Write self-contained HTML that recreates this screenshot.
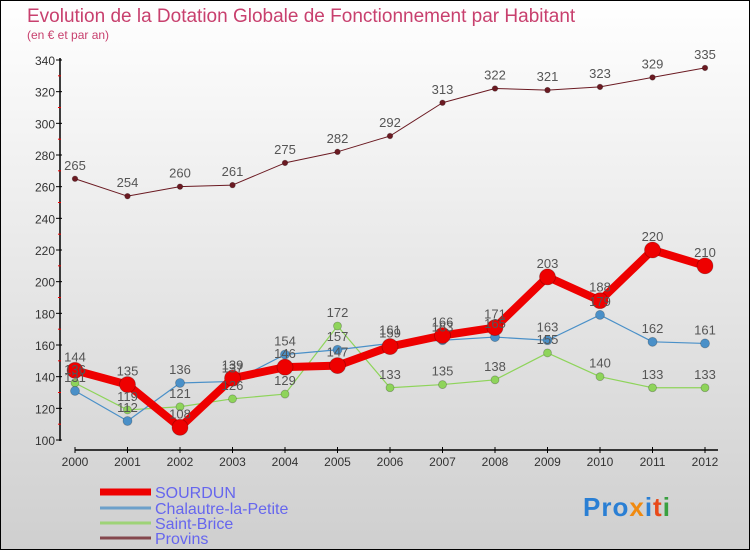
<!DOCTYPE html>
<html><head><meta charset="utf-8"><style>
html,body{margin:0;padding:0;}
body{width:750px;height:550px;overflow:hidden;font-family:"Liberation Sans",sans-serif;}
</style></head><body>
<svg id="chart" width="750" height="550" xmlns="http://www.w3.org/2000/svg" style="display:block">
<defs>
<linearGradient id="bg" x1="0" y1="0" x2="0" y2="1">
<stop offset="0" stop-color="#ffffff"/><stop offset="1" stop-color="#cfcfcf"/>
</linearGradient>
</defs>
<rect x="0.5" y="0.5" width="749" height="549" fill="url(#bg)" stroke="#000"/>
<text x="27" y="22" font-size="19" fill="#c8406e">Evolution de la Dotation Globale de Fonctionnement par Habitant</text>
<text x="27" y="39" font-size="12" fill="#c8406e">(en € et par an)</text>
<g id="axes"></g>
<g id="series"></g>
<g id="legend"></g>
<text x="583" y="516" font-size="26" font-weight="bold" style="letter-spacing:1px"><tspan fill="#2a7fd4">Pro</tspan><tspan fill="#f08a10">x</tspan><tspan fill="#2a7fd4">i</tspan><tspan fill="#e84a1a">t</tspan><tspan fill="#3aa040">i</tspan></text>
</svg>
<script>
const years=[2000,2001,2002,2003,2004,2005,2006,2007,2008,2009,2010,2011,2012];
const sourdun=[144,135,108,139,146,147,159,166,171,203,188,220,210];
const chalautre=[131,112,136,137,154,157,161,163,165,163,179,162,161];
const saintBrice=[136,119,121,126,129,172,133,135,138,155,140,133,133];
const provins=[265,254,260,261,275,282,292,313,322,321,323,329,335];
const yTicks=[100,120,140,160,180,200,220,240,260,280,300,320,340];
const NS="http://www.w3.org/2000/svg";
function x(i){return 75+i*52.5;}
function y(v){return 440-(v-100)*380/240;}
function mk(tag,attrs,parent){const e=document.createElementNS(NS,tag);for(const k in attrs)e.setAttribute(k,attrs[k]);parent.appendChild(e);return e;}
const axes=document.getElementById('axes');
let yl=mk('line',{x1:60,y1:y(340)-2,x2:60,y2:441,stroke:'#000','stroke-width':1.5},axes);


yTicks.forEach(v=>{
  mk('line',{x1:56,y1:y(v),x2:62,y2:y(v),stroke:'#000'},axes);
  let t=mk('text',{x:55,y:y(v)+5,'font-size':12,'text-anchor':'end',fill:'#333'},axes);
  t.textContent=v;
  
  
  if(v<340) mk('line',{x1:58,y1:y(v+10),x2:61,y2:y(v+10),stroke:'#e00'},axes);
});
let xl=mk('line',{x1:75,y1:450,x2:718,y2:450,stroke:'#000','stroke-width':1.5},axes);


years.forEach((yr,i)=>{
  mk('line',{x1:x(i),y1:447,x2:x(i),y2:453,stroke:'#000'},axes);
  let t=mk('text',{x:x(i),y:466,'font-size':12,'text-anchor':'middle',fill:'#333'},axes);
  t.textContent=yr;
  
  
});
const series=[
 {name:'provins',data:provins,color:'#6b1a22',w:1,r:2.8,label:'Provins'},
 {name:'saint-brice',data:saintBrice,color:'#8ed45a',w:1.2,r:4,label:'Saint-Brice'},
 {name:'chalautre',data:chalautre,color:'#4a90c8',w:1.2,r:4.5,label:'Chalautre-la-Petite'},
 {name:'sourdun',data:sourdun,color:'#ee0000',w:8,r:8,label:'SOURDUN'}
];
const sg=document.getElementById('series');
series.forEach(s=>{
  const g=mk('g',{},sg);
  
  
  const pts=s.data.map((v,i)=>x(i)+','+y(v)).join(' ');
  let pl=mk('polyline',{points:pts,fill:'none',stroke:s.color,'stroke-width':s.w,'stroke-linejoin':'round'},g);
  
  
  s.data.forEach((v,i)=>{
    let c=mk('circle',{cx:x(i),cy:y(v),r:s.r,fill:s.color,stroke:'rgba(0,0,0,0.25)','stroke-width':0.8},g);
    
    
  });
});
series.forEach(s=>{
  s.data.forEach((v,i)=>{
    let t=mk('text',{x:x(i),y:y(v)-9,'font-size':13,'text-anchor':'middle',fill:'#555'},sg);
    t.textContent=v;
    
    
  });
});
const lg=document.getElementById('legend');
const leg=[series[3],series[2],series[1],series[0]];
const lys=[492,508,523,538];
leg.forEach((s,k)=>{
  let l=mk('line',{x1:100,y1:lys[k],x2:151,y2:lys[k],stroke:s.color,'stroke-width':s.name==='sourdun'?7:3,opacity:s.name==='sourdun'?1:0.75},lg);
  
  
  let t=mk('text',{x:155,y:lys[k]+6,'font-size':16,fill:'#6666ee'},lg);
  t.textContent=s.label;
  
  
});
</script>
</body></html>
